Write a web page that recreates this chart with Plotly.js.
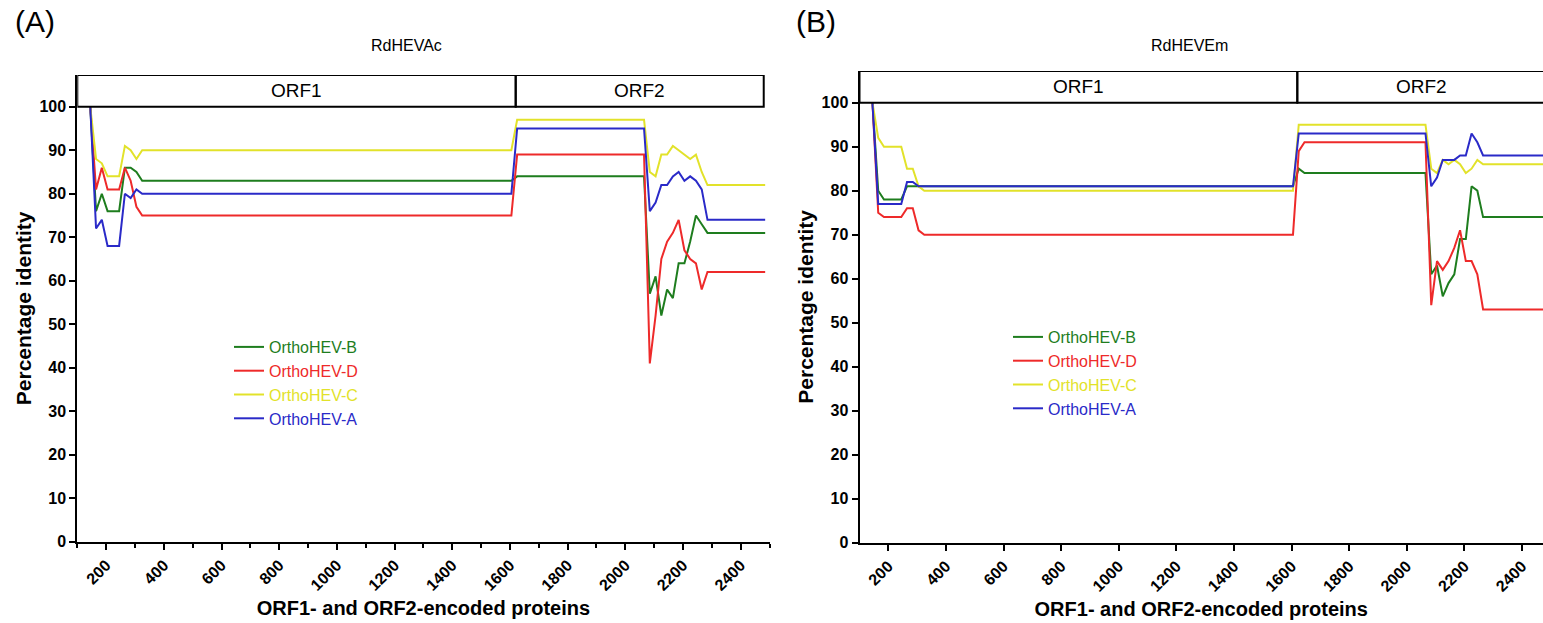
<!DOCTYPE html>
<html>
<head>
<meta charset="utf-8">
<script src="https://cdn.plot.ly/plotly-3.0.1.min.js"></script>
<style>html,body{margin:0;padding:0;background:#fff;}#chart{width:1543px;height:623px;}</style>
</head>
<body>
<div id="chart"></div>
<script>
// ---------- data ----------
const seriesNames = ["OrthoHEV-B", "OrthoHEV-D", "OrthoHEV-C", "OrthoHEV-A"];
const seriesColors = ["#1e7d1e", "#ee2a2a", "#e2e22a", "#2a2ac8"];

// Panel A: RdHEVAc
const xA = [145,165,185,205,225,245,265,285,305,325,1605,1625,2065,2085,2105,2125,2145,2165,2185,2205,2225,2245,2265,2285,2485];
const A_B = [100,76,80,76,76,76,86,86,85,83,83,84,84,57,61,52,58,56,64,64,69,75,73,71,71];
const A_D = [100,81,86,81,81,81,86,83,77,75,75,89,89,41,52,65,69,71,74,67,65,64,58,62,62];
const A_C = [100,88,87,84,84,84,91,90,88,90,90,97,97,85,84,89,89,91,90,89,88,89,85,82,82];
const A_A = [100,72,74,68,68,68,80,79,81,80,80,95,95,76,78,82,82,84,85,83,84,83,81,74,74];

// Panel B: RdHEVEm
const xB = [145,165,185,205,225,245,265,285,305,325,1605,1625,1645,2065,2085,2105,2125,2145,2165,2185,2205,2225,2245,2265,2485];
const B_B = [100,80,78,78,78,78,81,81,81,81,81,85,84,84,61,63,56,59,61,69,69,81,80,74,74];
const B_D = [100,75,74,74,74,74,76,76,71,70,70,89,91,91,54,64,62,64,67,71,64,64,61,53,53];
const B_C = [100,92,90,90,90,90,85,85,81,80,80,95,95,95,85,84,87,86,87,86,84,85,87,86,86];
const B_A = [100,77,77,77,77,77,82,82,81,81,81,93,93,93,81,83,87,87,87,88,88,93,91,88,88];

const panelTitles = ["RdHEVAc", "RdHEVEm"];
const panelLetters = ["(A)", "(B)"];
const orfLabels = ["ORF1", "ORF2"];
const orfBounds = [100, 1620, 2480];
const yTicks = [0,10,20,30,40,50,60,70,80,90,100];
const xTitle = "ORF1- and ORF2-encoded proteins";
const yTitle = "Percentage identity";

// ---------- traces ----------
const FONT = "Liberation Sans, Arial, sans-serif";
const traces = [];
const panels = [
  {x: xA, ys: [A_B, A_D, A_C, A_A], xa: "x", ya: "y", legend: "legend"},
  {x: xB, ys: [B_B, B_D, B_C, B_A], xa: "x2", ya: "y2", legend: "legend2"}
];
panels.forEach(p => {
  p.ys.forEach((ys, i) => {
    traces.push({
      type: "scatter", mode: "lines",
      x: p.x, y: ys, xaxis: p.xa, yaxis: p.ya,
      legend: p.legend,
      name: '<span style="color:' + seriesColors[i] + '">' + seriesNames[i] + '</span>',
      line: {color: seriesColors[i], width: 2},
      hoverinfo: "x+y"
    });
  });
});

// ---------- layout ----------
const tickFont = {family: FONT, size: 16, color: "#000", weight: "bold"};
function xaxisDef(domain, range, minor, anchor) {
  const ax = {
    domain: domain, range: range, anchor: anchor, showgrid: false, zeroline: false,
    showline: true, linecolor: "#000", linewidth: 2,
    ticks: "outside", ticklen: 6, tickwidth: 2, tickcolor: "#000",
    tick0: 0, dtick: 200, tickangle: -45, tickfont: tickFont,
    title: {text: xTitle, font: {family: FONT, size: 20, color: "#000", weight: "bold"}, standoff: 8}
  };
  if (minor) ax.minor = {dtick: 100, tick0: 0, ticks: "outside", ticklen: 4, tickwidth: 2, tickcolor: "#000"};
  return ax;
}
function yaxisDef(domain, top, anchor) {
  return {
    domain: domain, range: [0, top], anchor: anchor, showgrid: false, zeroline: false,
    showline: true, linecolor: "#000", linewidth: 2,
    ticks: "outside", ticklen: 6, tickwidth: 2, tickcolor: "#000",
    tickmode: "array", tickvals: yTicks, tickfont: tickFont,
    title: {text: yTitle, font: {family: FONT, size: 21, color: "#000", weight: "bold"}, standoff: 2}
  };
}

const shapes = [];
const annotations = [];
[["x","y",107.3],["x2","y2",107.2]].forEach((ax, pi) => {
  for (let k = 0; k < 2; k++) {
    shapes.push({type: "rect", xref: ax[0], yref: ax[1], x0: orfBounds[k], x1: orfBounds[k+1], y0: 100, y1: ax[2],
      line: {color: "#000", width: 2}, fillcolor: "rgba(0,0,0,0)", layer: "above"});
    annotations.push({xref: ax[0], yref: ax[1], x: (orfBounds[k] + orfBounds[k+1]) / 2, y: (100 + ax[2]) / 2,
      text: orfLabels[k], showarrow: false, yanchor: "middle", font: {family: FONT, size: 19, color: "#000"}});
  }
});
function paperText(px, py, text, size) {
  annotations.push({xref: "paper", yref: "paper", x: px/1543, y: 1 - py/623, text: text, showarrow: false,
    xanchor: "center", yanchor: "middle", font: {family: FONT, size: size, color: "#000"}});
}
paperText(406, 45, panelTitles[0], 16);
paperText(1189, 45, panelTitles[1], 16);
paperText(35, 22, panelLetters[0], 30);
paperText(816, 22, panelLetters[1], 30);

const legendFont = {family: FONT, size: 16, color: "#000"};
const layout = {
  width: 1543, height: 623,
  margin: {l: 0, r: 0, t: 0, b: 0},
  paper_bgcolor: "#fff", plot_bgcolor: "#fff",
  showlegend: true,
  xaxis: xaxisDef([77.3/1543, 769.5/1543], [100, 2500], true, "y"),
  yaxis: yaxisDef([1 - 541.7/623, 1 - 75/623], 107.3, "x"),
  xaxis2: xaxisDef([859.5/1543, 1], [100, 2473], false, "y2"),
  yaxis2: yaxisDef([1 - 542.7/623, 1 - 71/623], 107.2, "x2"),
  legend: {x: 229/1543, y: 1 - 330/623, xanchor: "left", yanchor: "top", bgcolor: "rgba(0,0,0,0)", font: legendFont, tracegroupgap: 0},
  legend2: {x: 1008/1543, y: 1 - 320/623, xanchor: "left", yanchor: "top", bgcolor: "rgba(0,0,0,0)", font: legendFont, tracegroupgap: 0},
  shapes: shapes,
  annotations: annotations
};

Plotly.newPlot("chart", traces, layout, {displayModeBar: false, staticPlot: true});
</script>
</body>
</html>
